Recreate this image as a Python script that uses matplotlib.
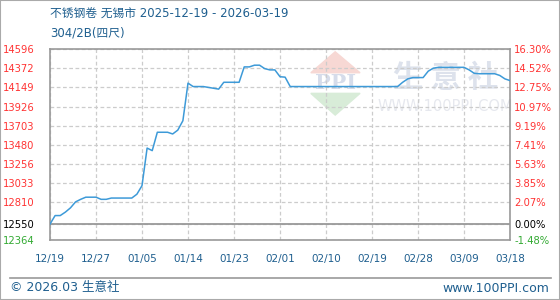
import numpy as np
import matplotlib.pyplot as plt
from matplotlib.patches import Polygon

plt.rcParams['font.family'] = ['DejaVu Sans', 'Noto Sans CJK SC']

# 日别价格 12/19 ~ 03/19 (91일)
prices = [12550, 12650, 12650, 12690, 12740, 12810, 12840, 12865, 12865, 12865,
          12840, 12840, 12855, 12855, 12855, 12855, 12855, 12900, 13000, 13440,
          13410, 13625, 13625, 13625, 13605, 13650, 13760, 14200, 14160, 14160,
          14160, 14150, 14140, 14130, 14210, 14210, 14210, 14210, 14390, 14390,
          14410, 14410, 14370, 14355, 14355, 14275, 14270, 14160, 14160, 14160,
          14160, 14160, 14160, 14160, 14160, 14160, 14160, 14160, 14160, 14160,
          14160, 14160, 14160, 14160, 14160, 14160, 14160, 14160, 14160, 14210,
          14250, 14265, 14265, 14265, 14340, 14375, 14385, 14385, 14385, 14385,
          14385, 14385, 14355, 14315, 14310, 14310, 14310, 14310, 14290, 14250,
          14230]
x_labels = ['12/19', '12/27', '01/05', '01/14', '01/23', '02/01',
            '02/10', '02/19', '02/28', '03/09', '03/18']
y_ticks = [12364, 12550, 12810, 13033, 13256, 13480, 13703, 13926, 14149, 14372, 14596]
pct_labels = ['-1.48%', '0.00%', '2.07%', '3.85%', '5.63%', '7.41%', '9.19%',
              '10.97%', '12.75%', '14.52%', '16.30%']
base = 12550

blue_txt = '#1f5f8f'
fig = plt.figure(figsize=(5.6, 3.0), dpi=100)
ax = fig.add_axes([50/560, 60/300, 460/560, 190.7/300])

x = np.arange(len(prices))
ax.plot(x, prices, color='#3d9ad8', lw=1.1, zorder=5)
ax.axhline(base, color='#999999', lw=1.3, zorder=3)

ax.set_xlim(0, len(prices) - 1)
ax.set_ylim(y_ticks[0], y_ticks[-1])
xt = np.linspace(0, len(prices) - 1, len(x_labels))
ax.set_xticks(xt)
ax.set_xticklabels(x_labels, color=blue_txt, fontsize=7.5)
ax.set_yticks(y_ticks)
ax.set_yticklabels([str(v) for v in y_ticks], fontsize=7.2)
for t, v in zip(ax.get_yticklabels(), y_ticks):
    t.set_color('#ff3333' if v > base else ('black' if v == base else '#33aa33'))
ax.tick_params(axis='both', length=0)
ax.tick_params(axis='y', pad=11)
ax.tick_params(axis='x', pad=10)
ax.grid(True, color='#cccccc', ls=(0, (3, 2)), lw=0.9)
for s in ax.spines.values():
    s.set_color('#999999')
    s.set_linewidth(1.2)

ax2 = ax.twinx()
ax2.set_ylim(ax.get_ylim())
ax2.set_yticks(y_ticks)
ax2.set_yticklabels(pct_labels, fontsize=7.2)
for t, v in zip(ax2.get_yticklabels(), y_ticks):
    t.set_color('#ff3333' if v > base else ('black' if v == base else '#33aa33'))
ax2.tick_params(axis='y', length=0, pad=3)
for s in ax2.spines.values():
    s.set_visible(False)

# 워터마크
ax.text(0.86, 0.85, '生 意 社', transform=ax.transAxes, ha='center', va='center',
        fontsize=22, color='#dde2ec', fontweight='bold', zorder=1,
        family=['Noto Sans CJK SC'])
ax.text(0.86, 0.70, 'WWW.100PPI.COM', transform=ax.transAxes, ha='center', va='center',
        fontsize=10.5, color='#e6e8ee', zorder=1)
ax.add_patch(Polygon([[0.567, 0.877], [0.674, 0.877], [0.62, 0.987]], closed=True,
                     transform=ax.transAxes, color='#f7d8d4', zorder=1))
ax.add_patch(Polygon([[0.567, 0.769], [0.674, 0.769], [0.62, 0.655]], closed=True,
                     transform=ax.transAxes, color='#d8ecd8', zorder=1))
ax.text(0.62, 0.823, 'PPI', transform=ax.transAxes, ha='center', va='center',
        fontsize=15, color='#d6dcea', fontweight='bold', family='DejaVu Serif', zorder=1)

fig.text(50/560, 1 - 14/300, '不锈钢卷 无锡市 2025-12-19 - 2026-03-19', fontsize=8.5,
         color=blue_txt, va='center', ha='left')
fig.text(50/560, 1 - 33/300, '304/2B(四尺)', fontsize=8.5, color=blue_txt, va='center', ha='left')

fig.add_artist(plt.Line2D([10/560, 551/560], [1 - 277.5/300] * 2, color='#999999', lw=1.2))
fig.text(10/560, 1 - 288/300, '© 2026.03 生意社', fontsize=9, color=blue_txt, va='center')
fig.text(549/560, 1 - 288/300, 'www.100PPI.com', fontsize=9, color=blue_txt, va='center', ha='right')
fig.add_artist(plt.Rectangle((0, 0), 1, 1, transform=fig.transFigure, fill=False,
                             edgecolor='#aaaaaa', lw=1.5))

plt.savefig('out.png', dpi=100)
